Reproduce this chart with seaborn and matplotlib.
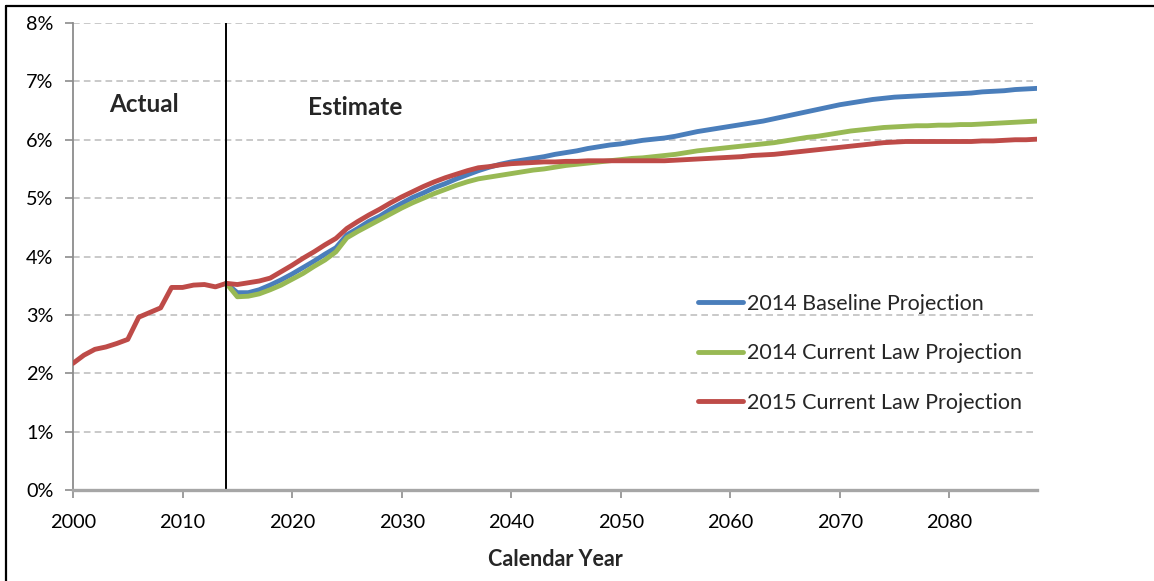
import numpy as np
import pandas as pd
import matplotlib
matplotlib.use("Agg")
import matplotlib.pyplot as plt
from matplotlib.lines import Line2D
import seaborn as sns

# Historical values, 2000-2014 (percent)
actual_years = list(range(2000, 2015))
actual_values = [2.17, 2.31, 2.41, 2.45, 2.51, 2.58, 2.96, 3.04, 3.12, 3.47,
                 3.47, 3.51, 3.52, 3.48, 3.54]

# Projections, 2014-2088 (percent)
proj_years = list(range(2014, 2089))
baseline_2014 = [
    3.54, 3.38, 3.38, 3.43, 3.51, 3.60, 3.70, 3.81, 3.92, 4.04,
    4.15, 4.37, 4.48, 4.60, 4.69, 4.81, 4.91, 5.01, 5.09, 5.18,
    5.25, 5.33, 5.40, 5.47, 5.53, 5.58, 5.62, 5.65, 5.68, 5.71,
    5.75, 5.78, 5.81, 5.85, 5.88, 5.91, 5.93, 5.96, 5.99, 6.01,
    6.03, 6.06, 6.10, 6.14, 6.17, 6.20, 6.23, 6.26, 6.29, 6.32,
    6.36, 6.40, 6.44, 6.48, 6.52, 6.56, 6.60, 6.63, 6.66, 6.69,
    6.71, 6.73, 6.74, 6.75, 6.76, 6.77, 6.78, 6.79, 6.80, 6.82,
    6.83, 6.84, 6.86, 6.87, 6.88,
]
current_law_2014 = [
    3.54, 3.31, 3.32, 3.36, 3.43, 3.51, 3.61, 3.71, 3.83, 3.94,
    4.08, 4.32, 4.43, 4.53, 4.63, 4.73, 4.83, 4.92, 5.00, 5.08,
    5.15, 5.22, 5.28, 5.33, 5.36, 5.39, 5.42, 5.45, 5.48, 5.50,
    5.53, 5.56, 5.58, 5.60, 5.62, 5.64, 5.66, 5.68, 5.69, 5.71,
    5.73, 5.75, 5.78, 5.81, 5.83, 5.85, 5.87, 5.89, 5.91, 5.93,
    5.95, 5.98, 6.01, 6.04, 6.06, 6.09, 6.12, 6.15, 6.17, 6.19,
    6.21, 6.22, 6.23, 6.24, 6.24, 6.25, 6.25, 6.26, 6.26, 6.27,
    6.28, 6.29, 6.30, 6.31, 6.32,
]
current_law_2015 = [
    3.54, 3.52, 3.55, 3.58, 3.63, 3.74, 3.85, 3.97, 4.08, 4.20,
    4.31, 4.48, 4.60, 4.71, 4.81, 4.92, 5.02, 5.11, 5.20, 5.28,
    5.35, 5.41, 5.47, 5.52, 5.54, 5.57, 5.59, 5.60, 5.61, 5.62,
    5.62, 5.63, 5.63, 5.64, 5.64, 5.64, 5.64, 5.64, 5.64, 5.64,
    5.64, 5.65, 5.66, 5.67, 5.68, 5.69, 5.70, 5.71, 5.73, 5.74,
    5.75, 5.77, 5.79, 5.81, 5.83, 5.85, 5.87, 5.89, 5.91, 5.93,
    5.95, 5.96, 5.97, 5.97, 5.97, 5.97, 5.97, 5.97, 5.97, 5.98,
    5.98, 5.99, 6.00, 6.00, 6.01,
]

series_names = ["2014 Baseline Projection",
                "2014 Current Law Projection",
                "2015 Current Law Projection"]
series_colors = ["#4A7EBB", "#98B954", "#BE4B48"]

proj = pd.DataFrame({
    "year": proj_years * 3,
    "value": baseline_2014 + current_law_2014 + current_law_2015,
    "series": np.repeat(series_names, len(proj_years)),
})
hist = pd.DataFrame({"year": actual_years, "value": actual_values})

sns.set_theme(style="white")
plt.rcParams["font.family"] = ["Lato", "DejaVu Sans"]

fig = plt.figure(figsize=(11.54, 5.81), dpi=100)
ax = fig.add_axes([73 / 1154, 1 - 490 / 581, (1037 - 73) / 1154, (490 - 23) / 581])

grid_color = "#C0C0C0"
for yv in range(1, 9):
    ax.axhline(yv, color=grid_color, lw=1.2, ls=(0, (4, 2.5)), zorder=0)

sns.lineplot(data=hist, x="year", y="value", color=series_colors[2],
             lw=3.5, ax=ax, legend=False, zorder=3)
sns.lineplot(data=proj, x="year", y="value", hue="series",
             hue_order=series_names, palette=series_colors,
             lw=3.5, ax=ax, legend=False, zorder=3)
# keep the 2015 projection drawn on top at the start
for line in ax.get_lines()[-1:]:
    line.set_zorder(4)

# split between actual and estimated years
ax.axvline(2014, ymin=0, ymax=1, color="black", lw=1.4, zorder=5)

ax.set_xlim(2000, 2088)
ax.set_ylim(0, 8)
ax.set_xticks(range(2000, 2081, 10))
ax.set_yticks(range(0, 9))
ax.set_yticklabels([f"{v}%" for v in range(0, 9)])
ax.tick_params(axis="both", which="both", direction="out", length=6,
               width=1.2, color="#8C8C8C", labelsize=14.3, labelcolor="black",
               left=True, bottom=True)
ax.tick_params(axis="y", pad=8)
ax.tick_params(axis="x", pad=11)

for side in ("top", "right"):
    ax.spines[side].set_visible(False)
ax.spines["left"].set_color("#8C8C8C")
ax.spines["left"].set_linewidth(1.3)
ax.spines["bottom"].set_color("#A6A6A6")
ax.spines["bottom"].set_linewidth(2.4)
ax.spines["bottom"].set_zorder(6)

ax.set_xlabel("Calendar Year", fontsize=15.5, fontweight="bold", labelpad=13)
ax.set_ylabel("")

ax.text(2006.5, 6.6, "Actual", fontsize=17.5, fontweight="bold",
        ha="center", va="center")
ax.text(2025.8, 6.55, "Estimate", fontsize=17.5, fontweight="bold",
        ha="center", va="center")

handles = [Line2D([0], [0], color=c, lw=3.5) for c in series_colors]
ax.legend(handles, series_names, loc="upper left",
          bbox_to_anchor=((697 - 73) / (1037 - 73) - 0.008, 1 - (285 - 23) / 467),
          frameon=False, fontsize=15.5, handlelength=2.1, handletextpad=0.2,
          labelspacing=1.38, borderaxespad=0)

# outer frame edges
fig.add_artist(Line2D([5.5 / 1154, 1], [1 - 5.5 / 581] * 2, color="black",
                      lw=1.6, transform=fig.transFigure))
fig.add_artist(Line2D([5.5 / 1154] * 2, [0, 1 - 5.5 / 581], color="black",
                      lw=1.6, transform=fig.transFigure))

fig.savefig("out.png", dpi=100)
